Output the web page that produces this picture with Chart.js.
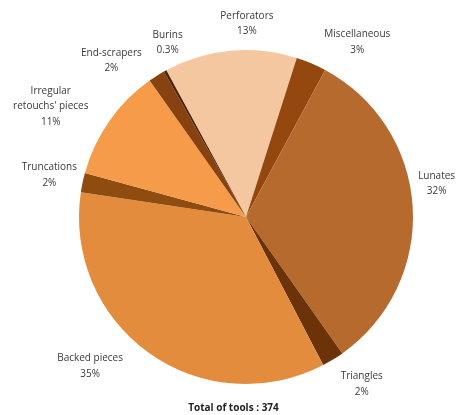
<!DOCTYPE html>
<html>
<head>
<meta charset="utf-8">
<script src="https://cdn.jsdelivr.net/npm/chart.js@4"></script>
<style>
  html, body { margin: 0; padding: 0; background: #fff; }
  canvas { display: block; }
</style>
</head>
<body>
<canvas id="tools-chart" width="467" height="415"></canvas>
<script>
// tool categories, clockwise from the top
const categories = ['Perforators', 'Miscellaneous', 'Lunates', 'Triangles', 'Backed pieces',
                    'Truncations', "Irregular retouchs' pieces", 'End-scrapers', 'Burins'];
const labelLines = [['Perforators'], ['Miscellaneous'], ['Lunates'], ['Triangles'], ['Backed pieces'],
                    ['Truncations'], ['Irregular', "retouchs' pieces"], ['End-scrapers'], ['Burins']];
// number of tools per category (total 374)
const counts = [48, 11, 121, 8, 131, 7, 41, 6, 1];
const percentLabels = ['13%', '3%', '32%', '2%', '35%', '2%', '11%', '2%', '0.3%'];
const totalLabel = 'Total of tools : 374';

const sliceColors = ['#F5C7A0', '#94470F', '#B76A2E', '#6B3307', '#E38C3D',
                     '#8F4C10', '#F59B4A', '#874210', '#4A2404'];

// little shifts so labels sit where the original put them
const labelNudge = [[20, 9], [32, 12], [-12, -21], [10, -6], [-38, -16],
                    [2, 0], [-29, 6], [-26, 15], [20, 3]];

const pieLabels = {
    id: 'pieLabels',
    afterDatasetsDraw(chart) {
        const ctx = chart.ctx;
        const arcs = chart.getDatasetMeta(0).data;
        ctx.save();
        ctx.fillStyle = '#3a3a3a';
        ctx.font = '10px "Open Sans"';
        ctx.textAlign = 'center';
        ctx.textBaseline = 'middle';
        const lineH = 15.5;
        arcs.forEach((arc, i) => {
            const mid = (arc.startAngle + arc.endAngle) / 2;
            const dist = arc.outerRadius + 36;
            const ax = arc.x + Math.cos(mid) * dist + labelNudge[i][0];
            const ay = arc.y + Math.sin(mid) * dist + labelNudge[i][1];
            const lines = labelLines[i].concat([percentLabels[i]]);
            const top = ay - (lines.length - 1) * lineH / 2;
            lines.forEach((t, k) => ctx.fillText(t, ax, top + k * lineH));
        });
        ctx.font = 'bold 10px "Open Sans"';
        ctx.fillStyle = '#222';
        ctx.fillText(totalLabel, chart.width / 2, chart.height - 7);
        ctx.restore();
    }
};

new Chart(document.getElementById('tools-chart'), {
    type: 'pie',
    data: {
        labels: categories,
        datasets: [{
            data: counts,
            backgroundColor: sliceColors,
            borderWidth: 0
        }]
    },
    options: {
        responsive: false,
        animation: false,
        devicePixelRatio: 1,
        rotation: -28.5,
        layout: { padding: { left: 79, right: 54, top: 50, bottom: 31 } },
        plugins: {
            legend: { display: false },
            tooltip: { enabled: false }
        }
    },
    plugins: [pieLabels]
});
</script>
</body>
</html>
